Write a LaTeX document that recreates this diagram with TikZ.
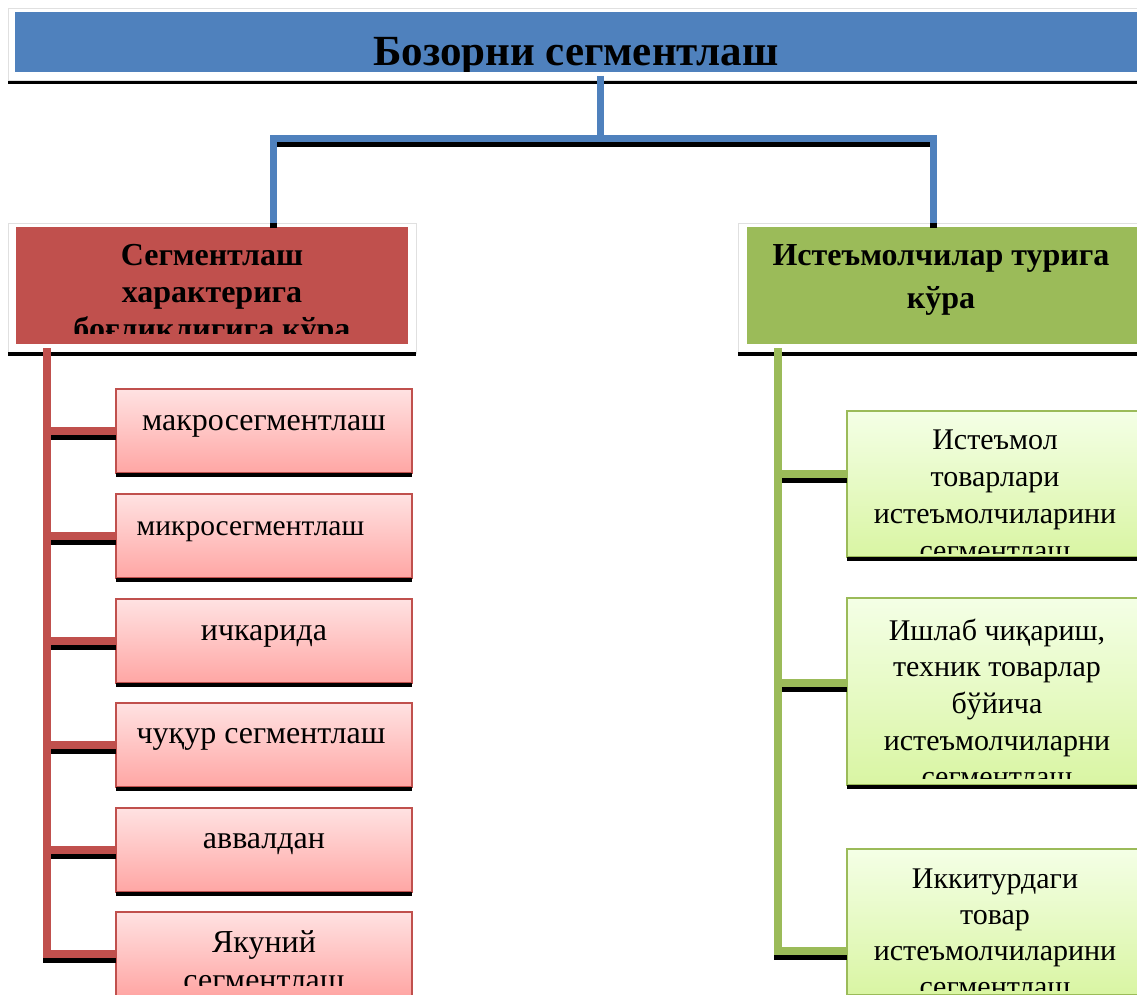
\documentclass[tikz,border=0pt]{standalone}
\usepackage{fontspec}
\setmainfont{Liberation Serif}
\usetikzlibrary{calc}
\definecolor{cblue}{HTML}{4F81BD}
\definecolor{cred}{HTML}{C0504D}
\definecolor{cgreen}{HTML}{9BBB59}
\definecolor{pinktop}{HTML}{FFE2E2}
\definecolor{pinkbot}{HTML}{FFA6A4}
\definecolor{limetop}{HTML}{F4FFE6}
\definecolor{limebot}{HTML}{D9F5A3}
\begin{document}
\begin{tikzpicture}[x=1pt,y=-1pt,
  framebox/.style={draw=black!12, line width=0.8pt, fill=white, inner sep=0pt, outer sep=0pt, anchor=north west},
  titlebox/.style={fill=cblue, inner sep=0pt, outer sep=0pt, anchor=north west},
  redhead/.style={fill=cred, inner sep=0pt, outer sep=0pt, anchor=north west},
  greenhead/.style={fill=cgreen, inner sep=0pt, outer sep=0pt, anchor=north west},
  pinkbox/.style={draw=cred, line width=1.5pt, top color=pinktop, bottom color=pinkbot, inner sep=0pt, outer sep=0pt, anchor=north west, minimum width=296pt, minimum height=84pt},
  limebox/.style={draw=cgreen, line width=1.5pt, top color=limetop, bottom color=limebot, inner sep=0pt, outer sep=0pt, anchor=north west, minimum width=300pt},
  txt/.style={anchor=base, inner sep=0pt, outer sep=0pt},
  shadowline/.style={draw=black, line width=8pt},
  blueline/.style={draw=cblue, line width=7pt},
  redline/.style={draw=cred, line width=8pt},
  greenline/.style={draw=cgreen, line width=8pt},
  bottomline/.style={draw=black, line width=4pt},
]
\useasboundingbox (0,0) rectangle (1137,995);
\clip (0,0) rectangle (1137,995);

% ---------- title ----------
\node[framebox, minimum width=1140pt, minimum height=72pt] (tframe) at (8,8) {};
\node[titlebox, minimum width=1140pt, minimum height=60pt] (title) at (15,12) {};
\draw[bottomline, line width=3pt] ([yshift=-2.5pt]tframe.south west) -- ([yshift=-2.5pt]tframe.south east);
\begin{scope}
  \clip (title.north west) rectangle (title.south east);
  \node[txt, font=\bfseries\fontsize{43}{50}\selectfont] (titletext) at (576,66) {Бозорни сегментлаш};
\end{scope}

% ---------- headers ----------
\node[framebox, minimum width=408pt, minimum height=130pt] (rframe) at (8,223) {};
\node[redhead, minimum width=392pt, minimum height=117pt] (rh) at (16,227) {};
\draw[bottomline] ([yshift=-1pt]rframe.south west) -- ([yshift=-1pt]rframe.south east);
\begin{scope}
  \clip (rh.north west) rectangle ([yshift=11pt]rh.south east);
  \node[txt, font=\bfseries\fontsize{32}{37}\selectfont] (rhtext) at (212,265)
    {\begin{tabular}[t]{@{}c@{}}Сегментлаш\\характерига\\боғлиқлигига кўра\end{tabular}};
\end{scope}

\node[framebox, minimum width=420pt, minimum height=130pt] (gframe) at (738,223) {};
\node[greenhead, minimum width=400pt, minimum height=117pt] (gh) at (747,227) {};
\draw[bottomline] ([yshift=-1pt]gframe.south west) -- ([yshift=-1pt]gframe.south east);
\begin{scope}
  \clip (gh.north west) rectangle ([yshift=11pt]gh.south east);
  \node[txt, font=\bfseries\fontsize{32}{43}\selectfont] (ghtext) at (941,265)
    {\begin{tabular}[t]{@{}c@{}}Истеъмолчилар турига\\кўра\end{tabular}};
\end{scope}

% ---------- blue connectors ----------
\coordinate (hub) at (600,139);
\coordinate (lj) at (273,139);
\coordinate (rj) at (933.5,139);
\coordinate (tdrop) at ([yshift=-4pt]hub |- title.south);
\begin{scope}[transform canvas={yshift=-5pt}]
  \draw[shadowline, line width=7pt] (tdrop) -- (hub);
  \draw[shadowline, line width=7pt] (lj |- rframe.north) -- (lj) -- (rj) -- (rj |- gframe.north);
\end{scope}
\draw[blueline] (tdrop) -- (hub);
\draw[blueline] (lj |- rframe.north) -- (lj) -- (rj) -- (rj |- gframe.north);

% ---------- left boxes ----------
\node[pinkbox] (lb1) at (116,389) {};
\node[pinkbox] (lb2) at (116,494) {};
\node[pinkbox] (lb3) at (116,599) {};
\node[pinkbox] (lb4) at (116,703) {};
\node[pinkbox] (lb5) at (116,808) {};
\node[pinkbox] (lb6) at (116,912) {};
\foreach \b in {lb1,lb2,lb3,lb4,lb5,lb6}{
  \fill[black] (\b.south west) rectangle ([yshift=-4pt]\b.south east);
}
\begin{scope}
  \clip (lb1.north west) rectangle ([yshift=9pt]lb1.south east);
  \node[txt, font=\fontsize{32}{37}\selectfont] (lt1) at (264,430) {макросегментлаш};
\end{scope}
\begin{scope}
  \clip (lb2.north west) rectangle ([yshift=9pt]lb2.south east);
  \node[txt, font=\fontsize{29.5}{37}\selectfont] (lt2) at (250.5,535) {микросегментлаш};
\end{scope}
\begin{scope}
  \clip (lb3.north west) rectangle ([yshift=9pt]lb3.south east);
  \node[txt, font=\fontsize{32}{37}\selectfont] (lt3) at (264,640) {ичкарида};
\end{scope}
\begin{scope}
  \clip (lb4.north west) rectangle ([yshift=9pt]lb4.south east);
  \node[txt, font=\fontsize{32}{37}\selectfont] (lt4) at (261,743) {чуқур сегментлаш};
\end{scope}
\begin{scope}
  \clip (lb5.north west) rectangle ([yshift=9pt]lb5.south east);
  \node[txt, font=\fontsize{32}{37}\selectfont] (lt5) at (264,848) {аввалдан};
\end{scope}
\begin{scope}
  \clip (lb6.north west) rectangle ([yshift=11pt]lb6.south east);
  \node[txt, font=\fontsize{32}{38}\selectfont] (lt6) at (264,952)
    {\begin{tabular}[t]{@{}c@{}}Якуний\\сегментлаш\end{tabular}};
\end{scope}

% red trunk and branches
\coordinate (rtop) at (47,348);
\begin{scope}[transform canvas={yshift=-5pt}]
  \foreach \b in {lb1,lb2,lb3,lb4,lb5}{
    \draw[shadowline] (rtop |- \b.west) -- (\b.west);
  }
  \draw[shadowline] (rtop) |- (lb6.west);
\end{scope}
\draw[redline] (rtop) |- (lb6.west);
\foreach \b in {lb1,lb2,lb3,lb4,lb5}{
  \draw[redline] (rtop |- \b.west) -- (\b.west);
}

% ---------- right boxes ----------
\node[limebox, minimum height=146pt] (gb1) at (847,411) {};
\node[limebox, minimum height=187pt] (gb2) at (847,598) {};
\node[limebox, minimum height=146pt] (gb3) at (847,849) {};
\foreach \b in {gb1,gb2,gb3}{
  \fill[black] (\b.south west) rectangle ([yshift=-4pt]\b.south east);
}
\begin{scope}
  \clip (gb1.north west) rectangle ([yshift=4pt]gb1.south east);
  \node[txt, font=\fontsize{30}{37}\selectfont] (gt1) at (995,449)
    {\begin{tabular}[t]{@{}c@{}}Истеъмол\\товарлари\\истеъмолчиларини\\сегментлаш\end{tabular}};
\end{scope}
\begin{scope}
  \clip (gb2.north west) rectangle ([yshift=7pt]gb2.south east);
  \node[txt, font=\fontsize{30}{36.7}\selectfont] (gt2) at (997,640)
    {\begin{tabular}[t]{@{}c@{}}Ишлаб чиқариш,\\техник товарлар\\бўйича\\истеъмолчиларни\\сегментлаш\end{tabular}};
\end{scope}
\begin{scope}
  \clip (gb3.north west) rectangle ([yshift=5pt]gb3.south east);
  \node[txt, font=\fontsize{30}{36}\selectfont] (gt3) at (995,888)
    {\begin{tabular}[t]{@{}c@{}}Иккитурдаги\\товар\\истеъмолчиларини\\сегментлаш\end{tabular}};
\end{scope}

% green trunk and branches
\coordinate (gtop) at (777.5,348);
\coordinate (g1in) at ([yshift=10pt]gb1.west);
\coordinate (g2in) at ([yshift=8.5pt]gb2.west);
\coordinate (g3in) at ([yshift=-29pt]gb3.west);
\begin{scope}[transform canvas={yshift=-5pt}]
  \draw[shadowline] (gtop |- g1in) -- (g1in);
  \draw[shadowline] (gtop |- g2in) -- (g2in);
  \draw[shadowline] (gtop) |- (g3in);
\end{scope}
\draw[greenline] (gtop) |- (g3in);
\draw[greenline] (gtop |- g1in) -- (g1in);
\draw[greenline] (gtop |- g2in) -- (g2in);
\end{tikzpicture}
\end{document}
